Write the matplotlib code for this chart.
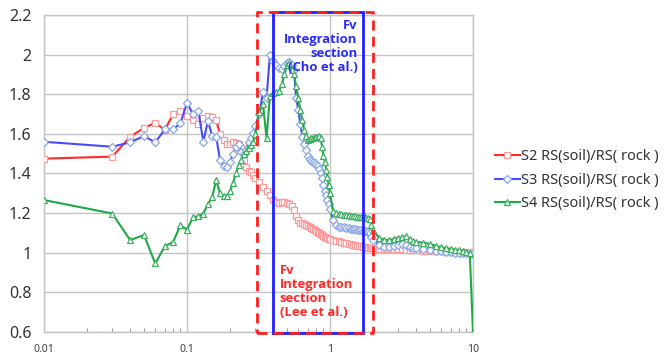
import matplotlib
matplotlib.use("Agg")
import matplotlib.pyplot as plt
from matplotlib.ticker import FixedLocator, LogLocator, NullFormatter

plt.rcParams['font.family'] = ['Noto Sans', 'DejaVu Sans']

period = [0.01, 0.03, 0.04, 0.05, 0.06, 0.07, 0.08, 0.09, 0.10, 0.11, 0.12, 0.13, 0.14, 0.15,
          0.16, 0.17, 0.18, 0.19, 0.20, 0.21, 0.22, 0.23, 0.24, 0.25, 0.26, 0.27, 0.28, 0.29,
          0.30, 0.32, 0.34, 0.36, 0.38, 0.40, 0.42, 0.44, 0.46, 0.48, 0.50, 0.52, 0.54, 0.56,
          0.58, 0.60, 0.62, 0.64, 0.66, 0.68, 0.70, 0.72, 0.74, 0.76, 0.78, 0.80, 0.82, 0.84,
          0.86, 0.88, 0.90, 0.92, 0.94, 0.96, 0.98, 1.00, 1.05, 1.10, 1.15, 1.20, 1.25, 1.30,
          1.35, 1.40, 1.45, 1.50, 1.55, 1.60, 1.65, 1.70, 1.75, 1.80, 1.85, 1.90, 1.95, 2.00,
          2.2, 2.4, 2.6, 2.8, 3.0, 3.2, 3.4, 3.6, 3.8, 4.0, 4.5, 5.0, 5.5, 6.0, 6.5, 7.0, 7.5,
          8.0, 8.5, 9.0, 9.5, 10.0]

s2 = [1.475, 1.485, 1.585, 1.63, 1.655, 1.62, 1.70, 1.715, 1.69, 1.67, 1.65, 1.68, 1.69, 1.685,
      1.67, 1.60, 1.57, 1.55, 1.55, 1.56, 1.555, 1.55, 1.53, 1.47, 1.435, 1.415, 1.405, 1.39,
      1.375, 1.355, 1.33, 1.31, 1.29, 1.265, 1.255, 1.25, 1.255, 1.255, 1.25, 1.245, 1.235, 1.215,
      1.185, 1.165, 1.15, 1.148, 1.145, 1.14, 1.135, 1.13, 1.125, 1.118, 1.113, 1.11, 1.105, 1.10,
      1.097, 1.09, 1.085, 1.08, 1.076, 1.073, 1.07, 1.068, 1.064, 1.06, 1.057, 1.055, 1.05, 1.047,
      1.045, 1.042, 1.04, 1.038, 1.036, 1.034, 1.032, 1.03, 1.03, 1.028, 1.026, 1.025, 1.024, 1.022,
      1.02, 1.018, 1.02, 1.018, 1.02, 1.018, 1.015, 1.013, 1.012, 1.012, 1.01, 1.01, 1.008, 1.008,
      1.006, 1.006, 1.005, 1.005, 1.004, 1.004, 1.004, 1.003]

s3 = [1.56, 1.535, 1.557, 1.589, 1.557, 1.623, 1.623, 1.653, 1.757, 1.70, 1.717, 1.56, 1.665, 1.589,
      1.585, 1.47, 1.44, 1.434, 1.46, 1.50, 1.535, 1.55, 1.51, 1.50, 1.52, 1.56, 1.58, 1.605,
      1.64, 1.70, 1.81, 1.78, 2.0, 1.97, 1.95, 1.93, 1.925, 1.94, 1.96, 1.965, 1.95, 1.92,
      1.78, 1.72, 1.65, 1.585, 1.55, 1.52, 1.49, 1.475, 1.465, 1.46, 1.455, 1.445, 1.44, 1.425,
      1.40, 1.375, 1.34, 1.31, 1.29, 1.265, 1.245, 1.22, 1.165, 1.138, 1.132, 1.13, 1.128, 1.125,
      1.123, 1.122, 1.12, 1.118, 1.116, 1.115, 1.114, 1.112, 1.11, 1.108, 1.106, 1.10, 1.08, 1.065,
      1.04, 1.03, 1.03, 1.035, 1.04, 1.042, 1.04, 1.03, 1.025, 1.022, 1.017, 1.013, 1.01, 1.007,
      1.005, 1.003, 1.0, 1.0, 0.998, 0.997, 0.996, 0.995]

s4 = [1.266, 1.198, 1.064, 1.089, 0.946, 1.033, 1.055, 1.139, 1.117, 1.178, 1.185, 1.198, 1.245, 1.282,
      1.367, 1.30, 1.286, 1.286, 1.313, 1.353, 1.40, 1.445, 1.47, 1.50, 1.515, 1.53, 1.545, 1.56,
      1.60, 1.71, 1.75, 1.58, 1.79, 1.805, 1.81, 1.815, 1.85, 1.90, 1.95, 1.96, 1.92, 1.90,
      1.84, 1.78, 1.72, 1.67, 1.62, 1.59, 1.57, 1.575, 1.577, 1.58, 1.585, 1.585, 1.585, 1.59,
      1.58, 1.535, 1.49, 1.46, 1.42, 1.38, 1.34, 1.30, 1.21, 1.20, 1.197, 1.195, 1.192, 1.19,
      1.188, 1.186, 1.185, 1.183, 1.182, 1.181, 1.18, 1.178, 1.178, 1.176, 1.175, 1.17, 1.14, 1.115,
      1.075, 1.065, 1.064, 1.07, 1.075, 1.078, 1.082, 1.07, 1.058, 1.055, 1.05, 1.045, 1.035, 1.028,
      1.022, 1.02, 1.015, 1.012, 1.008, 1.003, 0.998, 0.6]

labels = ['S2 RS(soil)/RS( rock )', 'S3 RS(soil)/RS( rock )', 'S4 RS(soil)/RS( rock )']
y_ticks = [0.6, 0.8, 1.0, 1.2, 1.4, 1.6, 1.8, 2.0, 2.2]
y_tick_labels = ['0.6', '0.8', '1', '1.2', '1.4', '1.6', '1.8', '2', '2.2']
x_ticks = [0.01, 0.1, 1, 10]
x_tick_labels = ['0.01', '0.1', '1', '10']

lee_range = [0.31, 2.0]
cho_range = [0.4, 1.7]
lee_text = 'Fv\nIntegration\nsection\n(Lee et al.)'
cho_text = 'Fv\nIntegration\nsection\n(Cho et al.)'

fig = plt.figure(figsize=(6.71, 3.60), dpi=100)
ax = fig.add_axes([0.0656, 0.0778, 0.6393, 0.8806])

ax.set_xscale('log')
ax.set_xlim(0.01, 10)
ax.set_ylim(0.6, 2.2)

ax.grid(True, which='major', color='#c4c4c4', linewidth=1.0)
ax.set_axisbelow(True)
for sp in ax.spines.values():
    sp.set_color('#c4c4c4')
    sp.set_linewidth(1.0)

ax.set_yticks(y_ticks)
ax.set_yticklabels(y_tick_labels)
ax.xaxis.set_major_locator(FixedLocator(x_ticks))
ax.set_xticklabels(x_tick_labels)
ax.xaxis.set_minor_locator(LogLocator(base=10, subs=[2, 3, 4, 5, 6, 7, 8, 9]))
ax.xaxis.set_minor_formatter(NullFormatter())
ax.tick_params(axis='y', length=0, labelsize=11.5, colors='#333333', pad=9)
ax.tick_params(axis='x', which='major', length=0, labelsize=7.5, colors='#404040', pad=9)
ax.tick_params(axis='x', which='minor', direction='in', length=3, color='#a0a0a0', width=0.8)

styles = [
    dict(color='#ff2a2a', marker='s', mec='#ff9a9a', ms=4.5),
    dict(color='#4a4aff', marker='D', mec='#8aa6e6', ms=4.0),
    dict(color='#1fa84a', marker='^', mec='#3cb060', ms=5.0),
]
series = [s2, s3, s4]
for vals, lab, st in zip(series, labels, styles):
    ax.plot(period, vals, color=st['color'], linewidth=1.5, marker=st['marker'],
            markersize=st['ms'], markerfacecolor='white', markeredgecolor=st['mec'],
            markeredgewidth=0.9, label=lab, zorder=3)

y_lo, y_hi = 0.595, 2.215
bx = [cho_range[0], cho_range[1], cho_range[1], cho_range[0], cho_range[0]]
by = [y_lo, y_lo, y_hi, y_hi, y_lo]
ax.plot(bx, by, color='#1f1fff', linewidth=2.0, clip_on=False, zorder=5,
        solid_joinstyle='miter')
rx = [lee_range[0], lee_range[1], lee_range[1], lee_range[0], lee_range[0]]
ax.plot(rx, by, color='#ff1f1f', linewidth=2.0, clip_on=False, zorder=6,
        linestyle=(0, (3.6, 2.2)))

ax.text(1.56, 2.18, cho_text, color='#2b2bff', fontsize=9.4, fontweight='bold',
        family=['Open Sans', 'DejaVu Sans'],
        ha='right', va='top', linespacing=1.1, zorder=7)
ax.text(0.445, 0.945, lee_text, color='#ff2a2a', fontsize=9.4, fontweight='bold',
        family=['Open Sans', 'DejaVu Sans'],
        ha='left', va='top', linespacing=1.1, zorder=7)

fig.legend(loc='upper left', bbox_to_anchor=(495 / 671, 1 - 149 / 360), frameon=False,
           fontsize=10.5, handlelength=1.7, handletextpad=0.1, labelspacing=0.6,
           numpoints=1, borderaxespad=0, borderpad=0, labelcolor='#333333')

fig.savefig('out.png', dpi=100)
